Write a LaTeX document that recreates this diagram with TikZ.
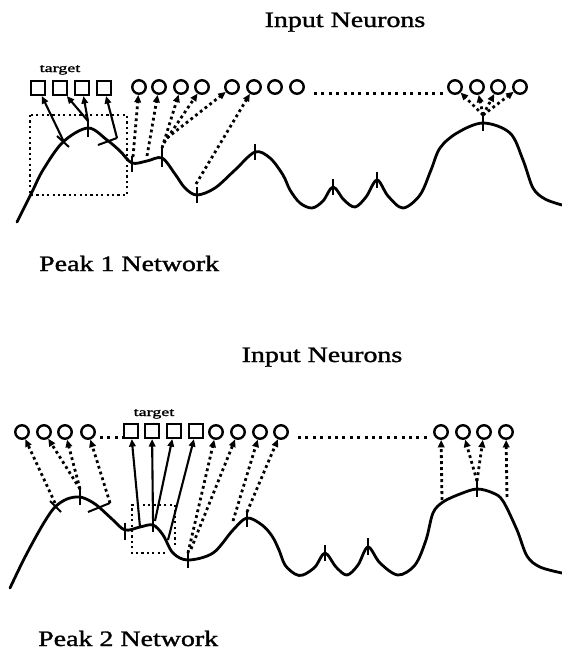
\documentclass[tikz,border=0pt]{standalone}
\usepackage{fontspec}
\usepackage{graphicx}
\setmainfont{Liberation Serif}
\newfontfamily\labelfont{Liberation Serif}[FakeBold=1.2]
\usetikzlibrary{arrows.meta}
\tikzset{
  curve/.style={line width=2.8pt, line join=round, line cap=round},
  tickmark/.style={line width=2pt},
  solidarrow/.style={line width=2.1pt, -{Triangle[length=7.5pt,width=6.5pt]}},
  dotarrow/.style={line width=2.8pt, dash pattern=on 2.8pt off 3.2pt, -{Triangle[length=7.5pt,width=6.5pt]}},
  dotline/.style={line width=3pt, dash pattern=on 3pt off 4.4pt},
  dotbox/.style={line width=2.2pt, dash pattern=on 2.2pt off 3.2pt},
  neuron/.style={circle, draw, line width=2.4pt, minimum size=13.5pt, inner sep=0pt},
  tneuron/.style={rectangle, draw, line width=2.1pt, minimum size=14pt, inner sep=0pt},
  biglabel/.style={font=\labelfont\fontsize{22}{24}\selectfont, inner sep=0pt},
  smalllabel/.style={font=\labelfont\fontsize{12}{14}\selectfont, inner sep=0pt},
}
\begin{document}
\begin{tikzpicture}[x=1pt,y=-1pt]
\useasboundingbox (0,0) rectangle (562,654);

% ================= TOP PANEL =================
\node[biglabel, anchor=base] (t1) at (345,27) {\scalebox{1.27}[1]{Input Neurons}};
\node[biglabel, anchor=base west] (p1) at (39,271) {\scalebox{1.27}[1]{Peak 1 Network}};
\node[smalllabel, anchor=base] (tg1) at (60,72) {\scalebox{1.5}[1]{target}};

% target neurons
\foreach \i/\x in {1/38,2/60,3/82,4/104} \node[tneuron] (s\i) at (\x,88) {};
% input neurons
\foreach \i/\x in {1/139,2/159,3/181,4/202,5/232,6/254,7/275,8/297,9/455,10/477,11/498,12/520}
  \node[neuron] (c\i) at (\x,87) {};
\coordinate (d1a) at (314,93);
\coordinate (d1b) at (443,93);
\draw[dotline] (d1a) -- (d1b);

% landscape
\draw[curve] plot[smooth, tension=0.55] coordinates {
 (17,222) (32,192) (43,170) (63,142) (88,128) (107,140) (120,151) (132,163) (147,161) (162,158)
 (175,174) (185,188) (197,195) (215,188) (235,170) (255,152) (270,158) (283,175) (290,190)
 (300,203) (312,208) (323,201) (333,187) (344,200) (355,207) (366,197) (377,180) (388,196)
 (403,208) (420,195) (431,170) (440,148) (457,133) (483,123) (510,133) (523,160) (533,188)
 (545,199) (562,205)};

% dotted box
\coordinate (b1a) at (30,115);
\coordinate (b1b) at (127,195);
\draw[dotbox] (b1a) rectangle (b1b);

% curve points
\coordinate (u1) at (63,140);
\coordinate (u2) at (88,121);
\coordinate (u3) at (117,138);
\coordinate (u3b) at (98,145);
\coordinate (u4) at (133,157);
\coordinate (u5) at (147,156);
\coordinate (u6) at (162,148);
\coordinate (u6b) at (164,143);
\coordinate (u6c) at (167,138);
\coordinate (u7) at (196,184);
\coordinate (u8) at (483,115);

% ticks
\draw[tickmark] (57,136) -- (69,147);
\draw[tickmark] (88,120) -- (88,137);
\draw[tickmark] (u3b) -- (u3);
\draw[tickmark] (132,156) -- (132,172);
\draw[tickmark] (162,146) -- (162,167);
\draw[tickmark] (197,187) -- (197,203);
\draw[tickmark] (255,144) -- (255,160);
\draw[tickmark] (333,179) -- (333,195);
\draw[tickmark] (377,172) -- (377,188);
\draw[tickmark] (483,114) -- (483,131);

% solid arrows to target
\draw[solidarrow] (u1) -- (s1);
\draw[solidarrow] (u2) -- (s2);
\draw[solidarrow] (u2) -- (s3);
\draw[solidarrow] (u3) -- (s4);

% dotted arrows to inputs
\draw[dotarrow] (u4) -- (c1);
\draw[dotarrow] (u5) -- (c2);
\draw[dotarrow] (u6) -- (c3);
\draw[dotarrow] (u6b) -- (c4);
\draw[dotarrow] (u6c) -- (c5);
\draw[dotarrow] (u7) -- (c6);
\draw[dotarrow] (u8) -- (c9);
\draw[dotarrow] (u8) -- (c10);
\draw[dotarrow] (u8) -- (c11);
\draw[dotarrow] (u8) -- (c12);

% ================= BOTTOM PANEL =================
\node[biglabel, anchor=base] (t2) at (322,362) {\scalebox{1.27}[1]{Input Neurons}};
\node[biglabel, anchor=base west] (p2) at (38,646) {\scalebox{1.27}[1]{Peak 2 Network}};
\node[smalllabel, anchor=base] (tg2) at (154,416) {\scalebox{1.5}[1]{target}};

\foreach \i/\x in {1/131,2/152,3/174,4/196} \node[tneuron] (q\i) at (\x,431) {};
\foreach \i/\x in {1/22,2/44,3/65,4/88,5/216,6/238,7/260,8/281,9/441,10/463,11/484,12/506}
  \node[neuron] (n\i) at (\x,432) {};
\coordinate (d2a) at (100,437);
\coordinate (d2b) at (123,437);
\coordinate (d2c) at (298,437);
\coordinate (d2d) at (430,437);
\draw[dotline] (d2a) -- (d2b);
\draw[dotline] (d2c) -- (d2d);

\draw[curve] plot[smooth, tension=0.55] coordinates {
 (10,588) (22,563) (33,542) (45,521) (55,507) (67,499) (80,497) (92,502) (100,508) (112,519)
 (125,530) (140,527) (153,525) (163,535) (173,553) (188,560) (213,553) (233,530) (247,518)
 (262,525) (272,536) (279,550) (285,565) (295,574) (303,575) (315,567) (325,553) (336,567)
 (347,575) (358,565) (368,547) (380,563) (398,575) (415,565) (426,540) (433,513) (443,502)
 (460,494) (477,489) (493,493) (503,501) (517,530) (527,556) (540,567) (562,573)};

\coordinate (b2a) at (132,505);
\coordinate (b2b) at (175,505);
\coordinate (b2c) at (175,545);
\coordinate (b2d) at (168,553);
\coordinate (b2e) at (132,553);
\draw[dotbox] (b2c) -- (b2b) -- (b2a) -- (b2e) -- (b2d);

\coordinate (v1) at (55,503);
\coordinate (v2) at (80,489);
\coordinate (v3) at (110,503);
\coordinate (v3b) at (88,512);
\coordinate (v4) at (140,527);
\coordinate (v5) at (153,519);
\coordinate (v6) at (155,521);
\coordinate (v7) at (168,540);
\coordinate (v8) at (188,553);
\coordinate (v9) at (191,549);
\coordinate (v10) at (233,521);
\coordinate (v11) at (247,512);
\coordinate (v12) at (442,500);
\coordinate (v13) at (477,481);
\coordinate (v14) at (507,497);

\draw[tickmark] (50,501) -- (61,512);
\draw[tickmark] (80,488) -- (80,505);
\draw[tickmark] (v3b) -- (v3);
\draw[tickmark] (125,523) -- (125,540);
\draw[tickmark] (153,516) -- (153,532);
\draw[tickmark] (188,551) -- (188,568);
\draw[tickmark] (247,510) -- (247,527);
\draw[tickmark] (325,545) -- (325,561);
\draw[tickmark] (368,538) -- (368,555);
\draw[tickmark] (477,480) -- (477,497);

\draw[solidarrow] (v4) -- (q1);
\draw[solidarrow] (v5) -- (q2);
\draw[solidarrow] (v6) -- (q3);
\draw[solidarrow] (v7) -- (q4);

\draw[dotarrow] (v1) -- (n1);
\draw[dotarrow] (v2) -- (n2);
\draw[dotarrow] (v2) -- (n3);
\draw[dotarrow] (v3) -- (n4);
\draw[dotarrow] (v8) -- (n5);
\draw[dotarrow] (v9) -- (n6);
\draw[dotarrow] (v10) -- (n7);
\draw[dotarrow] (v11) -- (n8);
\draw[dotarrow] (v12) -- (n9);
\draw[dotarrow] (v13) -- (n10);
\draw[dotarrow] (v13) -- (n11);
\draw[dotarrow] (v14) -- (n12);
\end{tikzpicture}
\end{document}
